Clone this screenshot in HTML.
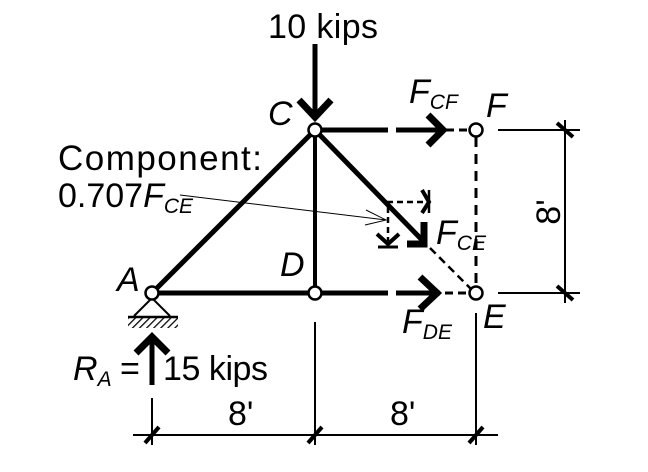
<!DOCTYPE html>
<html><head><style>body{margin:0;background:#fff}svg{display:block}text{font-family:"Liberation Sans",Arial,sans-serif;fill:#000}</style></head><body>
<svg width="648" height="472" viewBox="0 0 648 472" xmlns="http://www.w3.org/2000/svg">
<defs><pattern id="h" width="5" height="5" patternUnits="userSpaceOnUse" patternTransform="rotate(45)"><line x1="0" y1="0" x2="0" y2="5" stroke="#000" stroke-width="2.5"/></pattern></defs>
<g stroke="#000" fill="none" stroke-linecap="butt">
<line x1="152" y1="293" x2="315" y2="130" stroke-width="5"/>
<line x1="152" y1="293" x2="388" y2="293" stroke-width="5"/>
<line x1="396" y1="293" x2="440" y2="293" stroke-width="5"/>
<polyline points="420,277 437,293 420,309" stroke-width="7"/>
<line x1="445" y1="293" x2="470" y2="293" stroke-width="3" stroke-dasharray="8,5"/>
<line x1="315" y1="130" x2="315" y2="293" stroke-width="4"/>
<line x1="315" y1="130" x2="388" y2="130" stroke-width="5"/>
<line x1="396" y1="130" x2="440" y2="130" stroke-width="5"/>
<polyline points="428,115 443,130 428,145" stroke-width="7"/>
<line x1="446" y1="130" x2="470" y2="130" stroke-width="3" stroke-dasharray="8,5"/>
<line x1="476" y1="137" x2="476" y2="287" stroke-width="3" stroke-dasharray="10,7"/>
<line x1="315" y1="130" x2="425" y2="243" stroke-width="5"/>
<polyline points="424,222 424,244 407,244" stroke-width="7"/>
<line x1="430" y1="248" x2="472" y2="290" stroke-width="2.5" stroke-dasharray="8,5"/>
<polyline points="388,243 388,202 428,202" stroke-width="2.5" stroke-dasharray="6,4"/>
<polyline points="422,190 429,202 422,213" stroke-width="4"/>
<line x1="429" y1="190" x2="429" y2="213" stroke-width="2.5"/>
<polyline points="377,234 388,244 399,234" stroke-width="4"/>
<line x1="378" y1="247" x2="398" y2="247" stroke-width="3"/>
<line x1="180" y1="195" x2="386" y2="220" stroke-width="1"/>
<polyline points="366,210 386,220 365,225" stroke-width="1"/>
<line x1="315" y1="44" x2="315" y2="117" stroke-width="5"/>
<polyline points="299,100 315,117 331,100" stroke-width="7"/>
<line x1="152" y1="385" x2="152" y2="337" stroke-width="5"/>
<polyline points="136,353 152,337 168,353" stroke-width="7"/>
<polyline points="134,316 152,298 170,316" stroke-width="2"/>
<line x1="128" y1="317" x2="178" y2="317" stroke-width="2.5"/>
<rect x="128" y="318" width="50" height="10" fill="url(#h)" stroke="none"/>
<line x1="133" y1="435" x2="498" y2="435" stroke-width="2"/>
<line x1="152" y1="398" x2="152" y2="445" stroke-width="2"/>
<line x1="315" y1="322" x2="315" y2="445" stroke-width="2"/>
<line x1="476" y1="313" x2="476" y2="445" stroke-width="2"/>
<g stroke-width="4"><line x1="145" y1="443" x2="159" y2="427"/><line x1="308" y1="443" x2="322" y2="427"/><line x1="469" y1="443" x2="483" y2="427"/></g>
<line x1="498" y1="130" x2="580" y2="130" stroke-width="2"/>
<line x1="498" y1="293" x2="580" y2="293" stroke-width="2"/>
<line x1="565" y1="120" x2="565" y2="303" stroke-width="2"/>
<g stroke-width="4"><line x1="557" y1="123" x2="573" y2="137"/><line x1="557" y1="286" x2="573" y2="300"/></g>
</g>
<g fill="#fff" stroke="#000" stroke-width="2.5">
<circle cx="152" cy="293" r="6.5"/><circle cx="315" cy="293" r="6.5"/><circle cx="315" cy="130" r="6.5"/><circle cx="476" cy="293" r="6.5"/><circle cx="476" cy="130" r="6.5"/>
</g>
<g font-size="34">
<text x="268" y="38" textLength="110">10 kips</text>
<text x="268" y="125" font-style="italic">C</text>
<text x="486" y="117" font-style="italic">F</text>
<text x="409" y="103" font-style="italic">F<tspan font-size="21" dy="6">CF</tspan></text>
<text x="58" y="170" textLength="204" font-size="35">Component:</text>
<text x="58" y="207">0.707<tspan font-style="italic">F<tspan font-size="21" dy="6">CE</tspan></tspan></text>
<text x="436" y="244" font-style="italic">F<tspan font-size="21" dy="6">CE</tspan></text>
<text x="280" y="276" font-style="italic">D</text>
<text x="117" y="291" font-style="italic">A</text>
<text x="483" y="328" font-style="italic">E</text>
<text x="402" y="333" font-style="italic">F<tspan font-size="21" dy="6">DE</tspan></text>
<text x="73" y="380" font-style="italic">R<tspan font-size="21" dy="6">A</tspan></text>
<text x="120" y="380">=</text>
<text x="163" y="380" textLength="105">15 kips</text>
<text x="228" y="425">8'</text>
<text x="390" y="425">8'</text>
<text transform="translate(560,212) rotate(-90)" text-anchor="middle">8'</text>
</g>
</svg>
</body></html>
